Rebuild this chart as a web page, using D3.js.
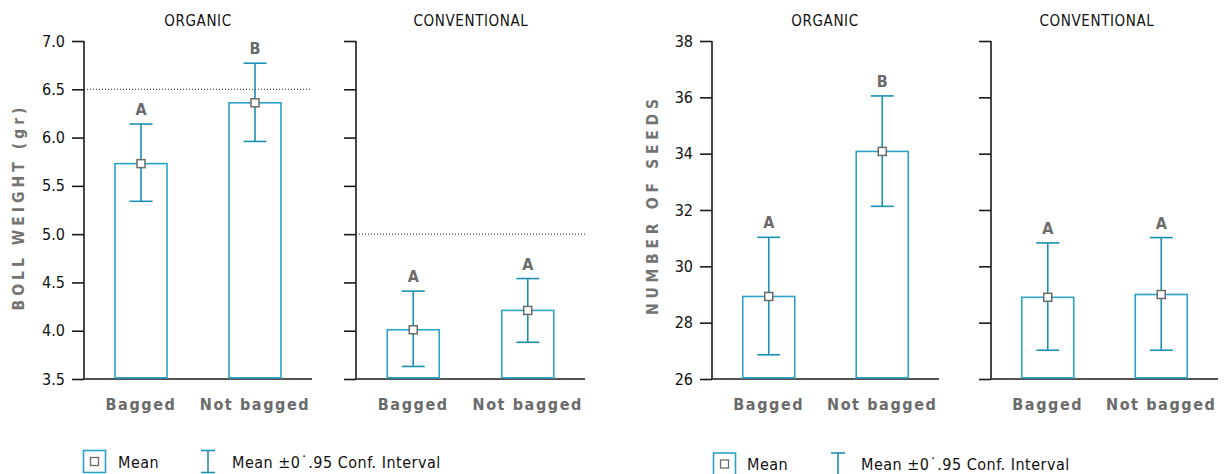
<!DOCTYPE html>
<html>
<head>
<meta charset="utf-8">
<script src="https://cdn.jsdelivr.net/npm/d3@7"></script>
<style>
  html, body { margin: 0; padding: 0; background: #fff; }
  svg { display: block; }
  text { font-family: "DejaVu Sans Condensed", "DejaVu Sans", sans-serif; }
</style>
</head>
<body>
<svg id="chart" width="1224" height="474"></svg>
<script>
// ---- data ----
const categories = ["Bagged", "Not bagged"];
const groups = ["ORGANIC", "CONVENTIONAL"];

const weightTicks = [3.5, 4.0, 4.5, 5.0, 5.5, 6.0, 6.5, 7.0];
const seedsTicks = [26, 28, 30, 32, 34, 36, 38];

const weightOrgMean = [5.73, 6.36];
const weightOrgLow  = [5.34, 5.96];
const weightOrgHigh = [6.14, 6.77];
const weightOrgLetters = ["A", "B"];
const weightOrgRef = 6.5;

const weightConvMean = [4.01, 4.21];
const weightConvLow  = [3.63, 3.88];
const weightConvHigh = [4.41, 4.54];
const weightConvLetters = ["A", "A"];
const weightConvRef = 5.0;

const seedsOrgMean = [28.93, 34.08];
const seedsOrgLow  = [26.86, 32.13];
const seedsOrgHigh = [31.03, 36.05];
const seedsOrgLetters = ["A", "B"];

const seedsConvMean = [28.90, 29.00];
const seedsConvLow  = [27.02, 27.02];
const seedsConvHigh = [30.83, 31.02];
const seedsConvLetters = ["A", "A"];

const weightTitle = "BOLL WEIGHT (gr)";
const seedsTitle = "NUMBER OF SEEDS";
const legendMean = "Mean";
const legendCI = "Mean \u00B10\u02D9.95 Conf. Interval";

// ---- styles ----
const barColor = "#2ba2c6";
const errColor = "#1b8fb4";
const axisColor = "#1a1a1a";
const labelGray = "#6b6b6b";

const svg = d3.select("#chart");
const yTop = 41, yBot = 379;

const weightY = d3.scaleLinear().domain([3.5, 7.0]).range([yBot, yTop]);
const seedsY = d3.scaleLinear().domain([26, 38]).range([yBot, yTop]);

const panels = [
  { y: weightY, ticks: weightTicks, fmt: d3.format(".1f"), labels: true,  x0: 84,  x1: 312, title: groups[0], titleX: 198,
    mean: weightOrgMean, low: weightOrgLow, high: weightOrgHigh, letters: weightOrgLetters, ref: weightOrgRef },
  { y: weightY, ticks: weightTicks, fmt: d3.format(".1f"), labels: false, x0: 356, x1: 585, title: groups[1], titleX: 471,
    mean: weightConvMean, low: weightConvLow, high: weightConvHigh, letters: weightConvLetters, ref: weightConvRef },
  { y: seedsY, ticks: seedsTicks, fmt: d3.format("d"), labels: true,  x0: 712, x1: 939, title: groups[0], titleX: 825,
    mean: seedsOrgMean, low: seedsOrgLow, high: seedsOrgHigh, letters: seedsOrgLetters, ref: null },
  { y: seedsY, ticks: seedsTicks, fmt: d3.format("d"), labels: false, x0: 991, x1: 1218, title: groups[1], titleX: 1097,
    mean: seedsConvMean, low: seedsConvLow, high: seedsConvHigh, letters: seedsConvLetters, ref: null }
];

const barW = 52, capHalf = 11.5, markerSize = 8;

panels.forEach(p => {
  const g = svg.append("g");
  const x = d3.scalePoint().domain(categories).range([p.x0, p.x1]).padding(0.5);

  // title
  g.append("text").attr("x", p.titleX).attr("y", 26).attr("text-anchor", "middle")
    .attr("font-size", 15).attr("fill", "#111").attr("letter-spacing", 0.6).text(p.title);

  // reference dotted line
  if (p.ref !== null) {
    g.append("line").attr("x1", p.x0).attr("x2", p.x1)
      .attr("y1", p.y(p.ref)).attr("y2", p.y(p.ref))
      .attr("stroke", "#222").attr("stroke-width", 1).attr("stroke-dasharray", "1,2");
  }

  // y axis
  const axis = d3.axisLeft(p.y).tickValues(p.ticks).tickSize(12).tickPadding(7)
    .tickFormat(p.labels ? p.fmt : () => "");
  const ag = g.append("g").attr("transform", `translate(${p.x0},0)`).call(axis);
  ag.select(".domain").attr("stroke", axisColor).attr("stroke-width", 1.6)
    .attr("d", `M0,${yTop}V${yBot}`);
  ag.selectAll(".tick line").attr("stroke", axisColor).attr("stroke-width", 1.6);
  ag.selectAll(".tick text").attr("font-size", 16).attr("fill", "#111")
    .attr("font-family", "\"DejaVu Sans Condensed\", \"DejaVu Sans\", sans-serif");

  // baseline
  g.append("line").attr("x1", p.x0).attr("x2", p.x1).attr("y1", yBot).attr("y2", yBot)
    .attr("stroke", axisColor).attr("stroke-width", 1.6);

  const yMin = p.y.domain()[0];
  // bars
  g.selectAll("rect.bar").data(categories).enter().append("rect").attr("class", "bar")
    .attr("x", d => x(d) - barW / 2)
    .attr("y", (d, i) => p.y(p.mean[i]))
    .attr("width", barW)
    .attr("height", (d, i) => p.y(yMin) - 1.2 - p.y(p.mean[i]))
    .attr("fill", "#fff").attr("stroke", barColor).attr("stroke-width", 1.6);

  // error bars
  categories.forEach((c, i) => {
    const cx = x(c);
    const yh = p.y(p.high[i]), yl = p.y(p.low[i]);
    g.append("line").attr("x1", cx).attr("x2", cx).attr("y1", yh).attr("y2", yl)
      .attr("stroke", errColor).attr("stroke-width", 1.6);
    [yh, yl].forEach(yy => {
      g.append("line").attr("x1", cx - capHalf).attr("x2", cx + capHalf).attr("y1", yy).attr("y2", yy)
        .attr("stroke", errColor).attr("stroke-width", 1.6);
    });
    // mean marker
    g.append("rect").attr("x", cx - markerSize / 2).attr("y", p.y(p.mean[i]) - markerSize / 2)
      .attr("width", markerSize).attr("height", markerSize)
      .attr("fill", "#fff").attr("stroke", "#6a6a6a").attr("stroke-width", 1.5);
    // letter
    g.append("text").attr("x", cx).attr("y", yh - 9).attr("text-anchor", "middle")
      .attr("font-size", 16).attr("font-weight", "bold").attr("fill", labelGray).text(p.letters[i]);
    // category label
    g.append("text").attr("x", cx).attr("y", 410).attr("text-anchor", "middle")
      .attr("font-size", 16).attr("font-weight", "bold").attr("fill", labelGray)
      .attr("letter-spacing", 1.6).text(c);
  });
});

// y titles
function yTitle(txt, cx, cy, len) {
  svg.append("text").attr("transform", `translate(${cx},${cy}) rotate(-90)`)
    .attr("text-anchor", "middle").attr("dy", "0.36em")
    .attr("font-size", 15.5).attr("font-weight", "bold").attr("fill", "#737373")
    .attr("textLength", len).attr("lengthAdjust", "spacing").text(txt);
}
yTitle(weightTitle, 18, 209, 203);
yTitle(seedsTitle, 652, 207, 216);

// legends
function legend(bx, by, ix, tx1, tx2) {
  const lg = svg.append("g");
  lg.append("rect").attr("x", bx).attr("y", by).attr("width", 22).attr("height", 22)
    .attr("fill", "#fff").attr("stroke", barColor).attr("stroke-width", 1.6);
  lg.append("rect").attr("x", bx + 7).attr("y", by + 7).attr("width", 8).attr("height", 8)
    .attr("fill", "#fff").attr("stroke", "#6a6a6a").attr("stroke-width", 1.3);
  lg.append("text").attr("x", tx1).attr("y", by + 17).attr("font-size", 16).attr("fill", "#111")
    .attr("letter-spacing", 0.5).text(legendMean);
  lg.append("line").attr("x1", ix).attr("x2", ix).attr("y1", by).attr("y2", by + 22)
    .attr("stroke", errColor).attr("stroke-width", 1.6);
  [by, by + 22].forEach(yy => lg.append("line").attr("x1", ix - 7).attr("x2", ix + 7)
    .attr("y1", yy).attr("y2", yy).attr("stroke", errColor).attr("stroke-width", 1.6));
  lg.append("text").attr("x", tx2).attr("y", by + 17).attr("font-size", 16).attr("fill", "#111")
    .attr("letter-spacing", 0.5).text(legendCI);
}
legend(83.5, 450.5, 208, 118, 232);
legend(713.5, 453, 838, 747, 861);
</script>
</body>
</html>
